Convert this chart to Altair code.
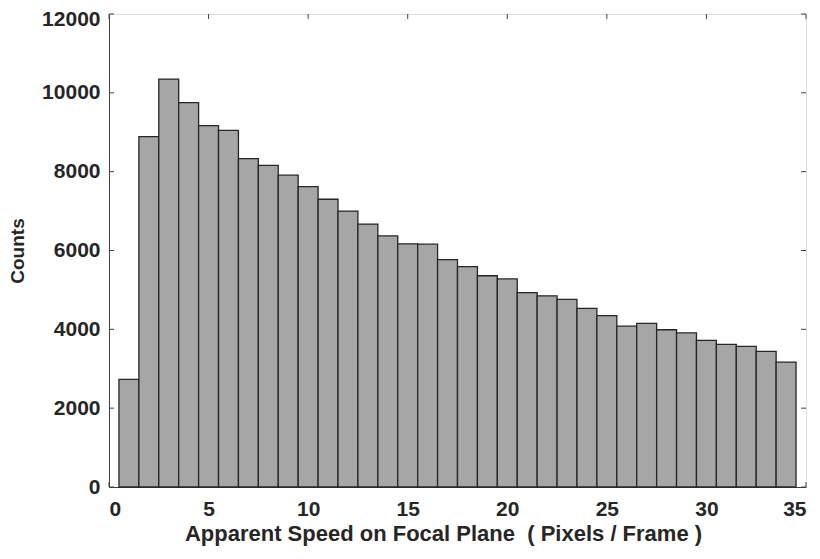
import altair as alt
import pandas as pd

bin_centers = list(range(1, 35))
counts = [2730, 8890, 10350, 9750, 9170, 9050, 8330, 8160, 7910, 7620,
          7300, 7000, 6670, 6370, 6170, 6160, 5770, 5590, 5360, 5280,
          4930, 4850, 4760, 4530, 4350, 4080, 4150, 3990, 3910, 3720,
          3620, 3570, 3440, 3170]
y_ticks = [0, 2000, 4000, 6000, 8000, 10000, 12000]
x_ticks = [0, 5, 10, 15, 20, 25, 30, 35]
x_title = "Apparent Speed on Focal Plane\u00a0\u00a0( Pixels / Frame )"

df = pd.DataFrame({
    "x0": [c - 0.5 for c in bin_centers],
    "x1": [c + 0.5 for c in bin_centers],
    "count": counts,
})
W, H = 697, 473
FONT = "Liberation Sans"
INK = "#262626"

xs = alt.Scale(domain=[0, 35], nice=False, zero=False)
ys = alt.Scale(domain=[0, 12000], nice=False)

bars = alt.Chart(df).mark_rect(
    fill="#a6a6a6", stroke=INK, strokeWidth=1.3
).encode(
    x=alt.X("x0:Q", scale=xs, axis=alt.Axis(
        title=x_title,
        values=x_ticks, format="d", tickSize=0, labelPadding=11,
        labelFontSize=21, labelFont=FONT, labelFontWeight="bold", labelColor=INK,
        titleFontSize=22, titleFont=FONT, titleFontWeight="bold", titleColor=INK,
        titlePadding=4, titleX=334, domainColor="#404040", grid=False)),
    x2="x1:Q",
    y=alt.Y("count:Q", scale=ys, axis=alt.Axis(
        title="Counts", values=y_ticks, format="d", tickSize=0, labelPadding=9,
        labelOffset=alt.condition("datum.value == 12000", alt.value(5), alt.value(0)),
        labelFontSize=21, labelFont=FONT, labelFontWeight="bold", labelColor=INK,
        titleFontSize=19, titleFont=FONT, titleFontWeight="bold", titleColor=INK,
        titlePadding=14, domainColor="#404040", grid=False)),
    y2=alt.datum(0),
)

ydf = pd.DataFrame({"v": y_ticks})
xdf = pd.DataFrame({"v": x_ticks})
tick_col = "#404040"
left_t = alt.Chart(ydf).mark_rule(color=tick_col, strokeWidth=1).encode(
    y=alt.Y("v:Q", scale=ys), x=alt.value(0), x2=alt.value(5))
right_t = alt.Chart(ydf).mark_rule(color=tick_col, strokeWidth=1).encode(
    y=alt.Y("v:Q", scale=ys), x=alt.value(W - 5), x2=alt.value(W))
top_t = alt.Chart(xdf).mark_rule(color=tick_col, strokeWidth=1).encode(
    x=alt.X("v:Q", scale=xs), y=alt.value(0), y2=alt.value(5))
bot_t = alt.Chart(xdf).mark_rule(color=tick_col, strokeWidth=1).encode(
    x=alt.X("v:Q", scale=xs), y=alt.value(H - 5), y2=alt.value(H))

chart = alt.layer(left_t, right_t, top_t, bot_t, bars).properties(
    width=W, height=H,
    autosize=alt.AutoSizeParams(type="none"),
    padding={"left": 101, "top": 6, "right": 6, "bottom": 64},
).configure_view(stroke="#404040", strokeWidth=1).configure(background="white")

chart.save("out.html", embed_options={"renderer": "svg", "actions": False})
